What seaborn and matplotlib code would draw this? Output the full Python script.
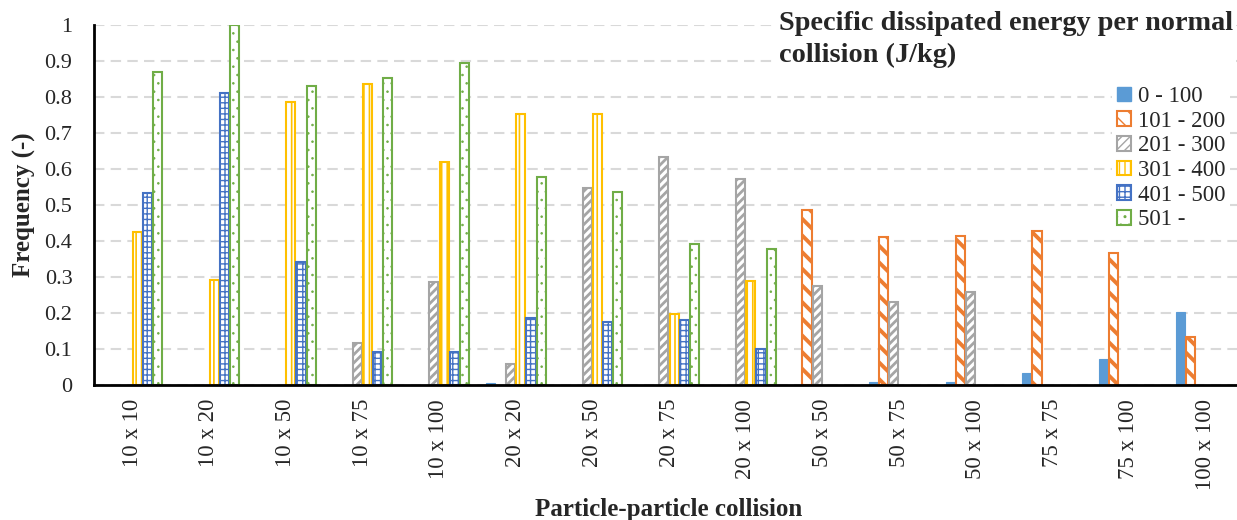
import pandas as pd
import numpy as np
import matplotlib
matplotlib.use("Agg")
import matplotlib.pyplot as plt
import matplotlib.patches as mpatches
from matplotlib.ticker import FixedLocator
import seaborn as sns

# Data
collisions = ["10 x 10", "10 x 20", "10 x 50", "10 x 75", "10 x 100",
              "20 x 20", "20 x 50", "20 x 75", "20 x 100",
              "50 x 50", "50 x 75", "50 x 100", "75 x 75", "75 x 100", "100 x 100"]
ranges = ["0 - 100", "101 - 200", "201 - 300", "301 - 400", "401 - 500", "501 -"]

e_0_100   = [0, 0, 0, 0, 0, 0.005, 0, 0, 0, 0, 0.007, 0.009, 0.032, 0.072, 0.202]
e_101_200 = [0, 0, 0, 0, 0, 0, 0, 0, 0, 0.487, 0.412, 0.415, 0.429, 0.366, 0.134]
e_201_300 = [0, 0, 0, 0.116, 0.285, 0.058, 0.547, 0.633, 0.572, 0.275, 0.231, 0.259, 0, 0, 0]
e_301_400 = [0.426, 0.292, 0.785, 0.837, 0.62, 0.753, 0.753, 0.197, 0.29, 0, 0, 0, 0, 0, 0]
e_401_500 = [0.534, 0.810, 0.343, 0.093, 0.093, 0.187, 0.176, 0.181, 0.099, 0, 0, 0, 0, 0, 0]
e_501     = [0.870, 1.0, 0.831, 0.854, 0.895, 0.579, 0.535, 0.391, 0.378, 0, 0, 0, 0, 0, 0]

colors = ["#5B9BD5", "#ED7D31", "#A5A5A5", "#FFC000", "#4472C4", "#70AD47"]
hatches = [None, "\\\\", "////", "|||", "+++", ".."]
hatch_lw = [1.0, 2.8, 2.0, 1.2, 1.0, 0.6]

series = [e_0_100, e_101_200, e_201_300, e_301_400, e_401_500, e_501]
rows = []
for r, vals in zip(ranges, series):
    for c, v in zip(collisions, vals):
        rows.append({"Collision": c, "Range": r, "Frequency": v})
df = pd.DataFrame(rows)

sns.set_style("white")
plt.rcParams["font.family"] = ["Liberation Serif", "DejaVu Serif"]
plt.rcParams["hatch.linewidth"] = 1.0


def style_hatch(p, i):
    # per-patch hatch width (matplotlib >= 3.10), otherwise rcParams value
    if hasattr(p, "set_hatch_linewidth"):
        p.set_hatch_linewidth(hatch_lw[i])
    elif hasattr(p, "_hatch_linewidth"):
        p._hatch_linewidth = hatch_lw[i]


fig = plt.figure(figsize=(12.37, 5.2), dpi=100)
ax = fig.add_axes([94 / 1237, 135 / 520, 1150 / 1237, 360 / 520])

sns.barplot(data=df, x="Collision", y="Frequency", hue="Range",
            order=collisions, hue_order=ranges, palette=colors,
            width=0.8, gap=0.1, ax=ax, legend=False)

for i, cont in enumerate(ax.containers):
    for bar in cont.patches:
        if bar.get_height() <= 0:
            bar.set_visible(False)
            continue
        if i == 0:
            bar.set_facecolor(colors[i])
            bar.set_edgecolor(colors[i])
            bar.set_linewidth(0.8)
        else:
            bar.set_facecolor("white")
            bar.set_edgecolor(colors[i])
            bar.set_linewidth(1.5)
            bar.set_hatch(hatches[i])
            style_hatch(bar, i)

ax.set_ylim(0, 1)
ax.set_xlim(-0.5, len(collisions) - 0.5)
yt = np.round(np.arange(0, 1.01, 0.1), 1)
ax.set_yticks(yt)
ax.set_yticklabels([f"{v:g}" for v in yt], fontsize=16)
ax.set_xticks(range(len(collisions)))
ax.set_xticklabels(collisions, rotation=90, fontsize=16.5)
ax.xaxis.set_minor_locator(FixedLocator(np.arange(-0.5, len(collisions), 1.0)))
ax.tick_params(axis="x", which="major", length=0, pad=10)
ax.tick_params(axis="x", which="minor", length=11, width=1.6, direction="inout", color="black")
ax.tick_params(axis="y", which="major", length=11, width=1.6, direction="inout", color="black", pad=10)

ax.yaxis.grid(True, linestyle=(0, (5, 3)), color="#D9D9D9", linewidth=1.5)
ax.xaxis.grid(False)
ax.set_axisbelow(True)
for s in ["top", "right"]:
    ax.spines[s].set_visible(False)
for s in ["left", "bottom"]:
    ax.spines[s].set_color("black")
    ax.spines[s].set_linewidth(2)

ax.set_xlabel("Particle-particle collision", fontsize=18, fontweight="bold", labelpad=6)
ax.set_ylabel("Frequency (-)", fontsize=18, fontweight="bold", labelpad=6)

# legend title as a separate text box, like the original
fig.text(779 / 1237, 1 - 11 / 520, "Specific dissipated energy per normal\ncollision (J/kg)",
         ha="left", va="top", fontsize=20.3, fontweight="bold", linespacing=1.35,
         bbox=dict(facecolor="white", edgecolor="none", pad=2))

handles = []
for i, r in enumerate(ranges):
    if i == 0:
        h = mpatches.Patch(facecolor=colors[i], edgecolor=colors[i], label=r)
    else:
        h = mpatches.Patch(facecolor="white", edgecolor=colors[i], hatch=hatches[i],
                           linewidth=1.5, label=r)
        style_hatch(h, i)
    handles.append(h)
leg = fig.legend(handles=handles, loc="upper left", bbox_to_anchor=(1101 / 1237, 1 - 70 / 520),
                 fontsize=16.5, frameon=True, handlelength=0.6, handleheight=0.6,
                 handletextpad=0.3, labelspacing=0.16, borderpad=0.2)
leg.get_frame().set_facecolor("white")
leg.get_frame().set_edgecolor("none")
leg.get_frame().set_alpha(1)

fig.savefig("out.png", dpi=100)
